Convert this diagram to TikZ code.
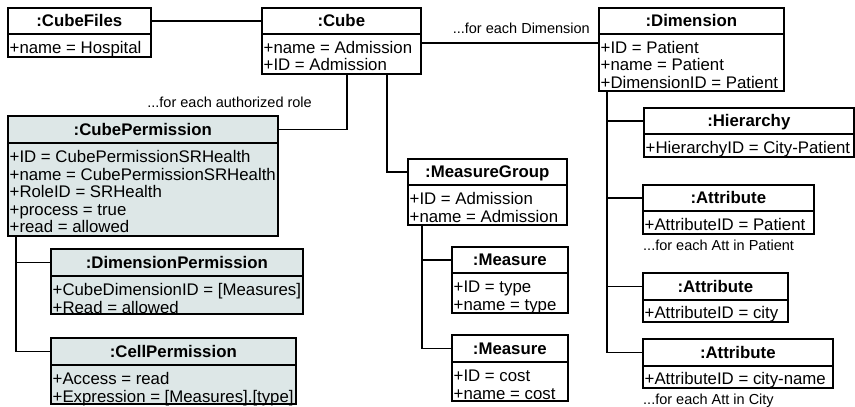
\documentclass[tikz,border=0pt]{standalone}
\usepackage{fontspec}
\setmainfont{Liberation Sans}
\definecolor{permfill}{RGB}{221,231,231}

% UML object: name, x1, y1, x2, y of header bottom, y2, extra style, title
\newcommand\umlobj[8]{%
  \node[hdr,#7,minimum width={(#4-#2)*1pt},minimum height={(#5-#3)*1pt}] (#1-h) at (#2,#3) {#8};
  \node[bdy,#7,minimum width={(#4-#2)*1pt},minimum height={(#6-#5)*1pt}] (#1-b) at (#2,#5) {};
}
% attribute lines: x of box, first baseline, list of lines
\newcommand\umlattrs[3]{%
  \foreach \txt [count=\k from 0] in {#3}
    \node[attr] at ({#1+2.5},{#2+17.5*\k}) {\txt};
}

\begin{document}
\begin{tikzpicture}[x=1pt,y=-1pt,
  objbox/.style={draw, line width=1.6pt, inner sep=0pt, anchor=north west},
  hdr/.style={objbox, font=\fontsize{16.8}{18}\selectfont\bfseries, text height=11.8pt, text depth=0pt},
  bdy/.style={objbox},
  perm/.style={fill=permfill},
  attr/.style={inner sep=0pt, anchor=base west, font=\fontsize{16.8}{18}\selectfont},
  note/.style={inner sep=0pt, font=\fontsize{14.5}{16}\selectfont},
  conn/.style={line width=1.6pt}]
\useasboundingbox (0,0) rectangle (855,407);

% objects
\umlobj{cf}{7}{7}{150}{33}{56}{}{:CubeFiles}
\umlattrs{7}{53}{+name = Hospital}

\umlobj{cube}{261}{7}{420}{33}{73}{}{:Cube}
\umlattrs{261}{53}{+name = Admission,+ID = Admission}

\umlobj{dim}{598}{7}{783}{33}{90}{}{:Dimension}
\umlattrs{598}{53}{+ID = Patient,+name = Patient,+DimensionID = Patient}

\umlobj{cp}{7}{115}{277}{142}{235}{perm}{:CubePermission}
\umlattrs{7}{162.5}{+ID = CubePermissionSRHealth,+name = CubePermissionSRHealth,+RoleID = SRHealth,+process = true,+read = allowed}

\umlobj{dp}{50}{248}{302}{275}{313}{perm}{:DimensionPermission}
\umlattrs{50}{295.5}{+CubeDimensionID = [Measures],+Read = allowed}

\umlobj{cell}{50}{337}{295}{364}{403}{perm}{:CellPermission}
\umlattrs{50}{384.5}{+Access = read,+Expression = [Measures].[type]}

\umlobj{mg}{407}{158}{566}{184}{224}{}{:MeasureGroup}
\umlattrs{407}{204.5}{+ID = Admission,+name = Admission}

\umlobj{ma}{451}{246}{567}{272}{312}{}{:Measure}
\umlattrs{451}{292.5}{+ID = type,+name = type}

\umlobj{mb}{451}{334}{567}{361}{400}{}{:Measure}
\umlattrs{451}{381.5}{+ID = cost,+name = cost}

\umlobj{hier}{643}{107}{853}{133}{156}{}{:Hierarchy}
\umlattrs{643}{153}{+HierarchyID = City-Patient}

\umlobj{atta}{642}{184}{813}{210}{233}{}{:Attribute}
\umlattrs{642}{230}{+AttributeID = Patient}

\umlobj{attb}{642}{272}{787}{299}{321}{}{:Attribute}
\umlattrs{642}{318}{+AttributeID = city}

\umlobj{attc}{642}{338}{832}{365}{387}{}{:Attribute}
\umlattrs{642}{384}{+AttributeID = city-name}

% links
\draw[conn] (cf-h.east) -- (cube-h.west);
\draw[conn] ([yshift=-10pt]cube-b.north east) -- ([yshift=-10pt]dim-b.north west);
\draw[conn] ([xshift=86pt]cube-b.south west) |- (cp-h.east);
\draw[conn] ([xshift=126pt]cube-b.south west) |- (mg-h.west);
\draw[conn] ([xshift=15pt]mg-b.south west) |- (ma-h.west);
\draw[conn] ([xshift=15pt]mg-b.south west) |- (mb-h.west);
\draw[conn] ([xshift=9pt]dim-b.south west) |- (hier-h.west);
\draw[conn] ([xshift=9pt]dim-b.south west) |- (atta-h.west);
\draw[conn] ([xshift=9pt]dim-b.south west) |- (attb-h.west);
\draw[conn] ([xshift=9pt]dim-b.south west) |- (attc-h.west);
\draw[conn] ([xshift=9pt]cp-b.south west) |- (dp-h.west);
\draw[conn] ([xshift=9pt]cp-b.south west) |- (cell-h.west);

% iteration notes
\node[note, anchor=base east] (noteDim) at (590,33) {...for each Dimension};
\node[note, anchor=base east] (noteRole) at (312,107) {...for each authorized role};
\node[note, anchor=base west] (notePat) at (643,250) {...for each Att in Patient};
\node[note, anchor=base west] (noteCity) at (643,404) {...for each Att in City};
\end{tikzpicture}
\end{document}
